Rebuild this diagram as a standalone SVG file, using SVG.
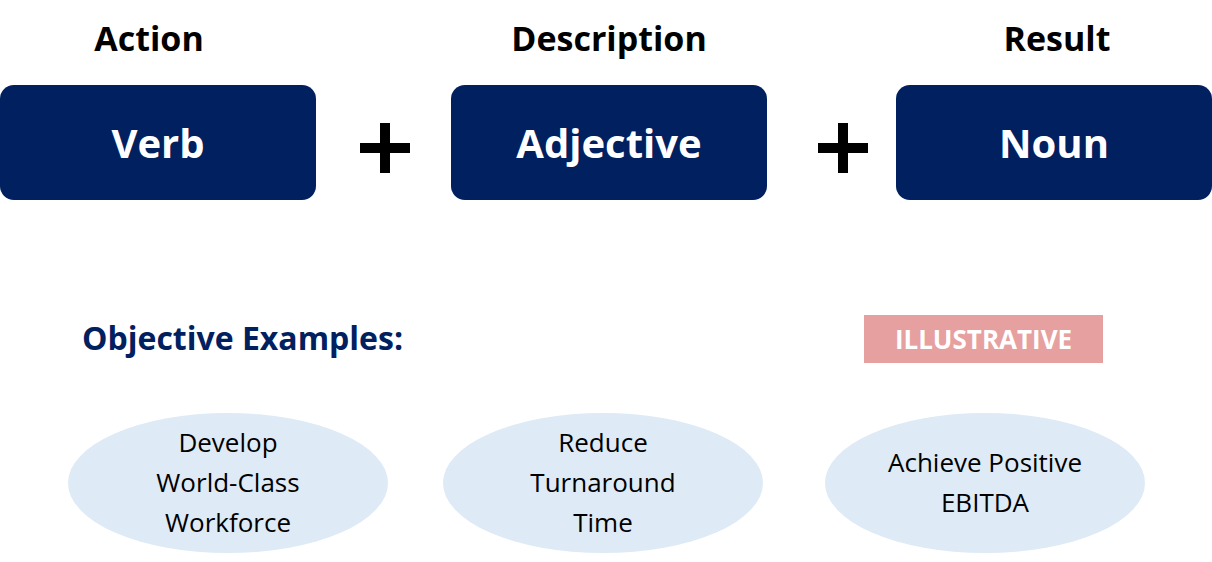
<svg xmlns="http://www.w3.org/2000/svg" width="1212" height="562" viewBox="0 0 1212 562">
<style>
.box{fill:#002060}
.bt{fill:#fff;font:bold 40px "Open Sans","Liberation Sans",sans-serif;text-anchor:middle}
.hd{fill:#000;font:bold 34px "Open Sans","Liberation Sans",sans-serif;text-anchor:middle}
.el{fill:#DEEAF6}
.et{fill:#000;font:26px "Open Sans","Liberation Sans",sans-serif;text-anchor:middle}
.plus{stroke:#000;stroke-width:10}
</style>
<rect width="1212" height="562" fill="#fff"/>
<text class="hd" x="149" y="51">Action</text>
<text class="hd" x="609" y="51">Description</text>
<text class="hd" x="1057" y="51">Result</text>
<g id="verb"><rect class="box" x="0" y="85" width="316" height="115" rx="14"/><text class="bt" x="158" y="158">Verb</text></g>
<g id="adjective"><rect class="box" x="451" y="85" width="316" height="115" rx="14"/><text class="bt" x="609" y="158">Adjective</text></g>
<g id="noun"><rect class="box" x="896" y="85" width="316" height="115" rx="14"/><text class="bt" x="1054" y="158">Noun</text></g>
<g id="connectors">
<path class="plus" d="M360 148H410M385 123V173"/>
<path class="plus" d="M818 148H868M843 123V173"/>
</g>
<text x="82" y="350" fill="#002060" style="font:bold 32px 'Open Sans','Liberation Sans',sans-serif">Objective Examples:</text>
<g id="illustrative"><rect x="864" y="315" width="239" height="48" fill="#E6A0A0"/><text x="983.5" y="349" fill="#fff" text-anchor="middle" style="font:bold 26px 'Open Sans','Liberation Sans',sans-serif">ILLUSTRATIVE</text></g>
<g id="ex1"><ellipse class="el" cx="228" cy="483" rx="160" ry="70"/><text class="et" x="228" y="452">Develop</text><text class="et" x="228" y="492">World-Class</text><text class="et" x="228" y="532">Workforce</text></g>
<g id="ex2"><ellipse class="el" cx="603" cy="483" rx="160" ry="70"/><text class="et" x="603" y="452">Reduce</text><text class="et" x="603" y="492">Turnaround</text><text class="et" x="603" y="532">Time</text></g>
<g id="ex3"><ellipse class="el" cx="985" cy="483" rx="160" ry="70"/><text class="et" x="985" y="472">Achieve Positive</text><text class="et" x="985" y="512">EBITDA</text></g>
</svg>
